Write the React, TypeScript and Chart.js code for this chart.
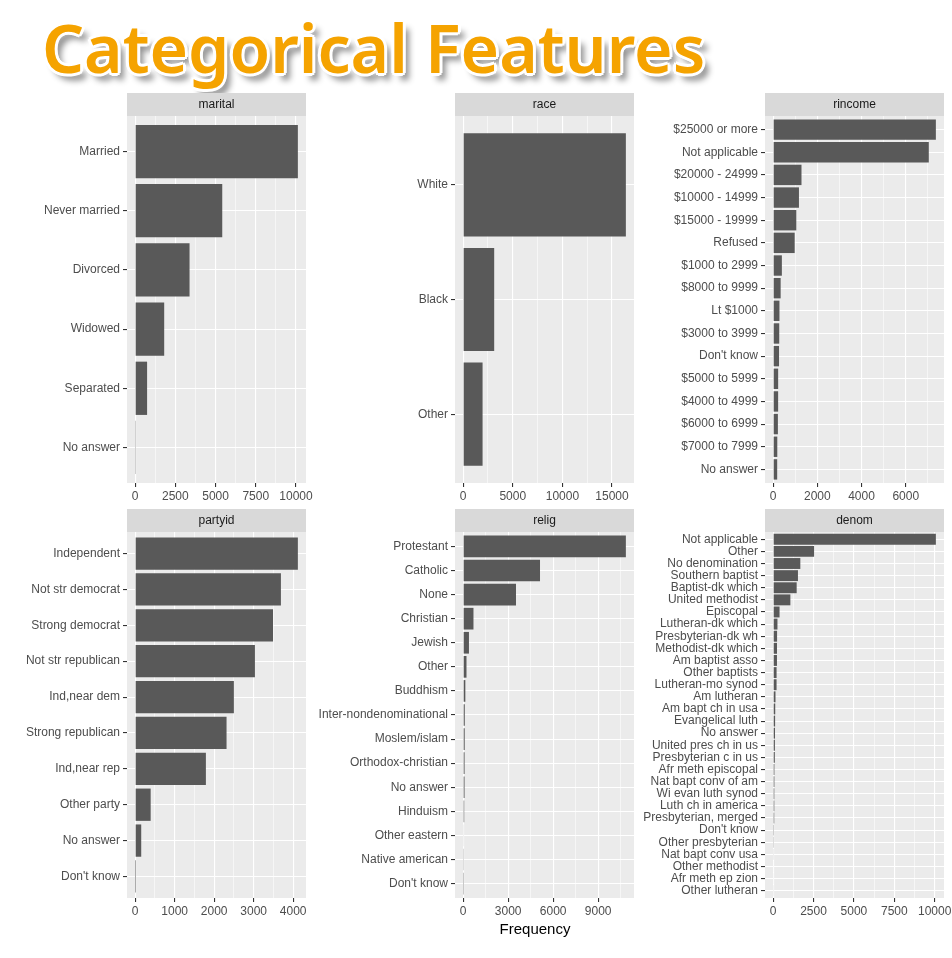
import React, { useEffect, useRef } from 'react';
import Chart from 'chart.js/auto';

// --- data (counts per level, most frequent first) ---
const maritalLevels = ['Married', 'Never married', 'Divorced', 'Widowed', 'Separated', 'No answer'];
const maritalCounts = [10117, 5416, 3383, 1807, 743, 17];
const maritalTicks = [0, 2500, 5000, 7500, 10000];

const raceLevels = ['White', 'Black', 'Other'];
const raceCounts = [16395, 3129, 1959];
const raceTicks = [0, 5000, 10000, 15000];

const rincomeLevels = [
  '$25000 or more', 'Not applicable', '$20000 - 24999', '$10000 - 14999', '$15000 - 19999',
  'Refused', '$1000 to 2999', '$8000 to 9999', 'Lt $1000', '$3000 to 3999', "Don't know",
  '$5000 to 5999', '$4000 to 4999', '$6000 to 6999', '$7000 to 7999', 'No answer',
];
const rincomeCounts = [7363, 7043, 1283, 1168, 1048, 975, 395, 340, 286, 276, 267, 227, 226, 215, 188, 183];
const rincomeTicks = [0, 2000, 4000, 6000];

const partyidLevels = [
  'Independent', 'Not str democrat', 'Strong democrat', 'Not str republican', 'Ind,near dem',
  'Strong republican', 'Ind,near rep', 'Other party', 'No answer', "Don't know",
];
const partyidCounts = [4119, 3690, 3490, 3032, 2499, 2314, 1791, 393, 154, 1];
const partyidTicks = [0, 1000, 2000, 3000, 4000];

const religLevels = [
  'Protestant', 'Catholic', 'None', 'Christian', 'Jewish', 'Other', 'Buddhism',
  'Inter-nondenominational', 'Moslem/islam', 'Orthodox-christian', 'No answer', 'Hinduism',
  'Other eastern', 'Native american', "Don't know",
];
const religCounts = [10846, 5124, 3523, 689, 388, 224, 147, 109, 104, 95, 93, 71, 32, 23, 15];
const religTicks = [0, 3000, 6000, 9000];

const denomLevels = [
  'Not applicable', 'Other', 'No denomination', 'Southern baptist', 'Baptist-dk which',
  'United methodist', 'Episcopal', 'Lutheran-dk which', 'Presbyterian-dk wh', 'Methodist-dk which',
  'Am baptist asso', 'Other baptists', 'Lutheran-mo synod', 'Am lutheran', 'Am bapt ch in usa',
  'Evangelical luth', 'No answer', 'United pres ch in us', 'Presbyterian c in us', 'Afr meth episcopal',
  'Nat bapt conv of am', 'Wi evan luth synod', 'Luth ch in america', 'Presbyterian, merged', "Don't know",
  'Other presbyterian', 'Nat bapt conv usa', 'Other methodist', 'Afr meth ep zion', 'Other lutheran',
];
const denomCounts = [
  10072, 2534, 1683, 1536, 1457, 1067, 397, 267, 244, 239, 237, 213, 212, 146, 130,
  122, 117, 110, 104, 77, 76, 71, 71, 67, 52, 47, 40, 33, 32, 30,
];
const denomTicks = [0, 2500, 5000, 7500, 10000];

// --- layout ---
const STRIP_H = 23;
const XAXIS_H = 22;
const FONT = "'Liberation Sans', Arial, sans-serif";
const cols = [
  { left: 0, width: 320, axis: 127, padRight: 14 },
  { left: 300, width: 346, axis: 155, padRight: 12 },
  { left: 634, width: 318, axis: 131, padRight: 8 },
];
const rows = [
  { top: 93, height: 412 },
  { top: 509, height: 411 },
];

const stripPlugin = {
  id: 'facetStrip',
  beforeDraw(chart: any, _args: any, opts: any) {
    const { ctx, chartArea } = chart;
    const { left, right, top, bottom } = chartArea;
    ctx.save();
    ctx.fillStyle = '#EBEBEB';
    ctx.fillRect(left, top, right - left, bottom - top);
    ctx.fillStyle = '#D9D9D9';
    ctx.fillRect(left, top - STRIP_H, right - left, STRIP_H);
    ctx.fillStyle = '#1A1A1A';
    ctx.font = `12px ${FONT}`;
    ctx.textAlign = 'center';
    ctx.textBaseline = 'middle';
    ctx.fillText(opts.label, (left + right) / 2, top - STRIP_H / 2 + 0.5);
    ctx.restore();
  },
};

interface PanelProps {
  label: string;
  levels: string[];
  counts: number[];
  ticks: number[];
  col: number;
  row: number;
}

const Panel: React.FC<PanelProps> = ({ label, levels, counts, ticks, col, row }) => {
  const canvasRef = useRef<HTMLCanvasElement>(null);
  const c = cols[col];
  const r = rows[row];

  useEffect(() => {
    if (!canvasRef.current) return;
    const top = Math.max(...counts);
    const xMin = -0.05 * top;
    const xMax = 1.05 * top;
    const step = ticks[1] - ticks[0];
    const minor: number[] = [];
    for (let v = ticks[0] - step / 2; v <= ticks[ticks.length - 1] + step / 2; v += step) {
      if (v >= xMin && v <= xMax) minor.push(v);
    }
    const major = new Set(ticks);
    const allTicks = [...ticks, ...minor].sort((a, b) => a - b);

    const chart = new Chart(canvasRef.current, {
      type: 'bar',
      data: {
        datasets: [
          {
            data: counts.map((v, i) => ({ x: v, y: i + 1 })),
            backgroundColor: '#595959',
            barPercentage: 0.9,
            categoryPercentage: 1,
          } as any,
        ],
      },
      plugins: [stripPlugin],
      options: {
        animation: false,
        responsive: true,
        maintainAspectRatio: false,
        indexAxis: 'y',
        layout: { padding: { top: STRIP_H, left: 0, right: c.padRight, bottom: 0 } },
        plugins: {
          legend: { display: false },
          tooltip: { enabled: false },
          facetStrip: { label },
        } as any,
        scales: {
          x: {
            type: 'linear',
            position: 'bottom',
            min: xMin,
            max: xMax,
            offset: false,
            border: { display: false },
            afterBuildTicks: (axis: any) => {
              axis.ticks = allTicks.map(v => ({ value: v }));
            },
            afterFit: (axis: any) => {
              axis.height = XAXIS_H;
              axis.paddingLeft = 0;
              axis.paddingRight = 0;
            },
            grid: {
              offset: false,
              color: '#FFFFFF',
              lineWidth: (ctx: any) => (ctx.tick && major.has(ctx.tick.value) ? 1.1 : 0.55),
              tickColor: (ctx: any) => (ctx.tick && major.has(ctx.tick.value) ? '#333333' : 'rgba(0,0,0,0)'),
              tickWidth: 1.1,
              tickLength: 4,
            },
            ticks: {
              autoSkip: false,
              maxRotation: 0,
              minRotation: 0,
              padding: 2,
              color: '#4D4D4D',
              font: { family: FONT, size: 12 },
              callback: (v: any) => (major.has(v) ? String(v) : ''),
            },
          },
          y: {
            type: 'linear',
            reverse: true,
            min: 0.4,
            max: levels.length + 0.6,
            offset: false,
            border: { display: false },
            afterBuildTicks: (axis: any) => {
              axis.ticks = levels.map((_, i) => ({ value: i + 1 }));
            },
            afterFit: (axis: any) => {
              axis.width = c.axis;
              axis.paddingTop = 0;
              axis.paddingBottom = 0;
            },
            grid: {
              offset: false,
              color: '#FFFFFF',
              lineWidth: 1.1,
              tickColor: '#333333',
              tickLength: 4,
            },
            ticks: {
              autoSkip: false,
              padding: 3,
              color: '#4D4D4D',
              font: { family: FONT, size: 12 },
              callback: (v: any) => levels[Math.round(v) - 1] ?? '',
            },
          },
        },
      },
    });

    return () => {
      chart.destroy();
    };
  }, [label, levels, counts, ticks, col, row]);

  return (
    <div
      style={{
        position: 'absolute',
        left: c.left,
        top: r.top,
        width: c.width,
        height: r.height,
      }}
    >
      <canvas ref={canvasRef}></canvas>
    </div>
  );
};

export default function App() {
  return (
    <div
      style={{
        position: 'absolute',
        left: 0,
        top: 0,
        width: 952,
        height: 958,
        background: '#FFFFFF',
        overflow: 'hidden',
      }}
    >
      <div
        style={{
          position: 'absolute',
          left: 42,
          top: 2,
          fontFamily: "'Noto Sans', sans-serif",
          fontSize: 66,
          fontWeight: 600,
          color: '#F5A300',
          whiteSpace: 'nowrap',
          transform: 'scaleX(1.0)',
          transformOrigin: 'left top',
          textShadow:
            '2px 2px 0 #fff, -2px -2px 0 #fff, 2px -2px 0 #fff, -2px 2px 0 #fff, 3px 0 0 #fff, -3px 0 0 #fff, 0 3px 0 #fff, 0 -3px 0 #fff, 6px 7px 6px rgba(0,0,0,0.45)',
        }}
      >
        Categorical Features
      </div>

      <Panel label="marital" levels={maritalLevels} counts={maritalCounts} ticks={maritalTicks} col={0} row={0} />
      <Panel label="race" levels={raceLevels} counts={raceCounts} ticks={raceTicks} col={1} row={0} />
      <Panel label="rincome" levels={rincomeLevels} counts={rincomeCounts} ticks={rincomeTicks} col={2} row={0} />
      <Panel label="partyid" levels={partyidLevels} counts={partyidCounts} ticks={partyidTicks} col={0} row={1} />
      <Panel label="relig" levels={religLevels} counts={religCounts} ticks={religTicks} col={1} row={1} />
      <Panel label="denom" levels={denomLevels} counts={denomCounts} ticks={denomTicks} col={2} row={1} />

      <div
        style={{
          position: 'absolute',
          left: 435,
          top: 920,
          width: 200,
          textAlign: 'center',
          fontFamily: FONT,
          fontSize: 15,
          lineHeight: '18px',
          color: '#000000',
        }}
      >
        Frequency
      </div>
    </div>
  );
}
